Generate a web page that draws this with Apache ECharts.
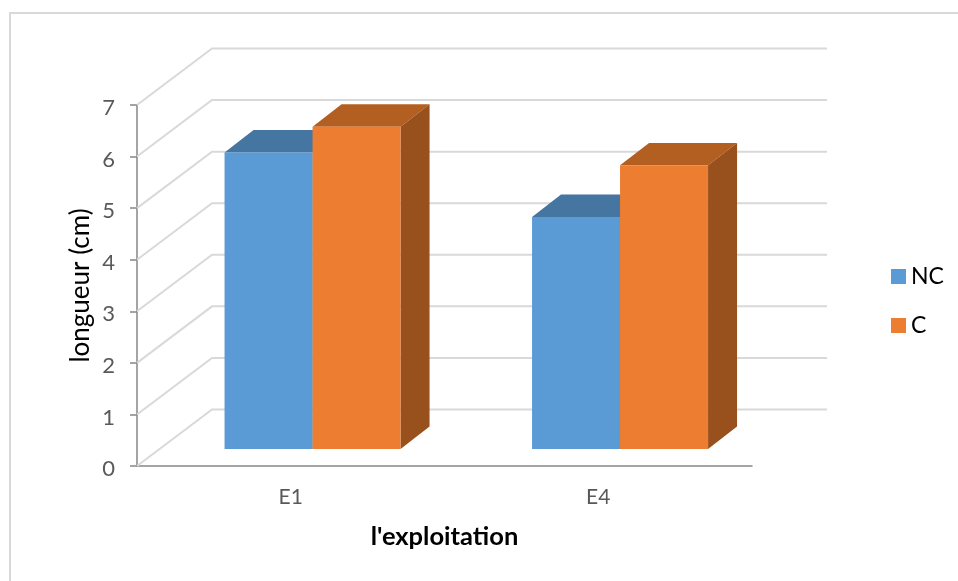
<!DOCTYPE html>
<html>
<head>
<meta charset="utf-8">
<script src="https://cdn.jsdelivr.net/npm/echarts@6/dist/echarts.min.js"></script>
<style>html,body{margin:0;padding:0;background:#fff}#c{width:958px;height:581px}</style>
</head>
<body>
<div id="c"></div>
<script>
const categories = ['E1', 'E4'];
const nc = [5.75, 4.5];
const c = [6.25, 5.5];
const ticks = [0, 1, 2, 3, 4, 5, 6, 7];

const FONT = 'Lato, "Open Sans", sans-serif';
const WALL_X = 75, WALL_Y = 56.5;      // depth of the floor
const BAR_IN_X = 21.8, BAR_IN_Y = 17;  // front of the bars, from the front of the floor
const DEPTH_X = 29, DEPTH_Y = 22.4;    // depth of a bar
const BAR_W = 88;

function barRenderer(side, front, top, flank) {
  return function (params, api) {
    const cat = api.value(0), val = api.value(1);
    const base = api.coord([cat, 0]);
    const head = api.coord([cat, val]);
    const cx = base[0] + BAR_IN_X;
    const x0 = side < 0 ? cx - BAR_W : cx;
    const x1 = x0 + BAR_W;
    const yb = base[1] - BAR_IN_Y;
    const yt = head[1] - BAR_IN_Y;
    const poly = (pts, fill) => ({ type: 'polygon', shape: { points: pts }, style: { fill: fill }, silent: true });
    return {
      type: 'group',
      children: [
        poly([[x0, yt], [x1, yt], [x1 + DEPTH_X, yt - DEPTH_Y], [x0 + DEPTH_X, yt - DEPTH_Y]], top),
        poly([[x1, yb], [x1, yt], [x1 + DEPTH_X, yt - DEPTH_Y], [x1 + DEPTH_X, yb - DEPTH_Y]], flank),
        poly([[x0, yb], [x1, yb], [x1, yt], [x0, yt]], front)
      ]
    };
  };
}

function wallRenderer(params, api) {
  const cs = params.coordSys;
  const y = api.coord([0, api.value(0)])[1];
  return {
    type: 'polyline',
    shape: { points: [[cs.x, y], [cs.x + WALL_X, y - WALL_Y], [cs.x + cs.width + WALL_X, y - WALL_Y]] },
    style: { fill: null, stroke: '#d9d9d9', lineWidth: 2 },
    silent: true
  };
}

const chart = echarts.init(document.getElementById('c'), null, { renderer: 'canvas' });
chart.setOption({
  animation: false,
  backgroundColor: '#ffffff',
  grid: { left: 137, top: 105, width: 615, height: 361, containLabel: false },
  legend: {
    orient: 'vertical', left: 891, top: 265, padding: 0,
    itemWidth: 15, itemHeight: 15, itemGap: 26,
    icon: 'rect',
    data: ['NC', 'C'],
    textStyle: { fontFamily: FONT, fontSize: 23, color: '#000000' }
  },
  xAxis: {
    type: 'category',
    data: categories,
    name: "l'exploitation",
    nameLocation: 'middle',
    nameGap: 58,
    nameMoveOverlap: false,
    nameTextStyle: { fontFamily: FONT, fontSize: 25.5, fontWeight: 'bold', color: '#000000' },
    axisLine: { lineStyle: { color: '#868686', width: 1.5 } },
    axisTick: { show: false },
    axisLabel: { fontFamily: FONT, fontSize: 21, color: '#595959', margin: 21 }
  },
  yAxis: {
    type: 'value',
    min: 0, max: 7, interval: 1,
    name: 'longueur (cm)',
    nameLocation: 'middle',
    nameGap: 43,
    nameMoveOverlap: false,
    nameTextStyle: { fontFamily: FONT, fontSize: 26, color: '#000000' },
    axisLine: { show: true, lineStyle: { color: '#868686', width: 1.5 } },
    axisTick: { show: true, length: 7, lineStyle: { color: '#868686', width: 1.5 } },
    axisLabel: {
      margin: 22,
      formatter: '{t|{value}}',
      rich: { t: { fontFamily: FONT, fontSize: 22, color: '#595959', padding: [6, 0, 0, 0] } }
    },
    splitLine: { show: false }
  },
  graphic: [{
    type: 'rect',
    shape: { x: 10, y: 13, width: 1200, height: 1000 },
    style: { fill: null, stroke: '#d9d9d9', lineWidth: 2 },
    silent: true, z: -1
  }],
  series: [
    { name: 'wall', type: 'custom', data: ticks.map(t => [t]), encode: { y: 0 }, renderItem: wallRenderer, z: 1, silent: true },
    { name: 'NC', type: 'custom', itemStyle: { color: '#5b9bd5' }, data: nc.map((v, i) => [i, v]), encode: { x: 0, y: 1 }, renderItem: barRenderer(-1, '#5b9bd5', '#4575a1', '#3f6f9b'), z: 3 },
    { name: 'C', type: 'custom', itemStyle: { color: '#ed7d31' }, data: c.map((v, i) => [i, v]), encode: { x: 0, y: 1 }, renderItem: barRenderer(1, '#ed7d31', '#b45f22', '#98501c'), z: 4 }
  ]
});
</script>
</body>
</html>
